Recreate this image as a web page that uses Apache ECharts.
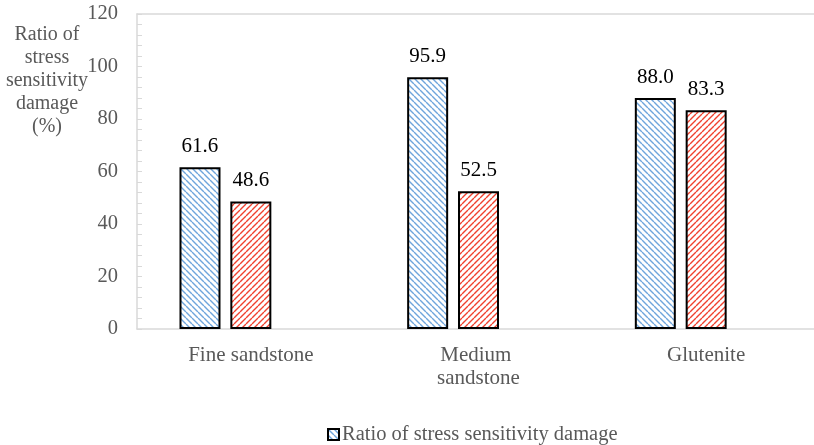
<!DOCTYPE html>
<html>
<head>
<meta charset="utf-8">
<script src="https://cdn.jsdelivr.net/npm/echarts@6/dist/echarts.min.js"></script>
<style>html,body{margin:0;padding:0;background:#fff;overflow:hidden}#c{width:820px;height:445px}</style>
</head>
<body>
<div id="c"></div>
<script>
const categories = ['Fine sandstone', 'Medium sandstone', 'Glutenite'];
const seriesNames = ['Ratio of stress sensitivity damage', 'Series 2', 'Series 3'];
const valuesBlue = [61.6, 95.9, 88.0];
const valuesRed = [48.6, 52.5, 83.3];
const valuesEmpty = [null, null, null];
const yTicks = [0, 20, 40, 60, 80, 100, 120];
const yName = ['Ratio of', 'stress', 'sensitivity', 'damage', '(%)'];

function makePattern(color, dir) {
  const s = 6;
  const c = document.createElement('canvas');
  c.width = s; c.height = s;
  const g = c.getContext('2d');
  g.fillStyle = '#ffffff';
  g.fillRect(0, 0, s, s);
  g.strokeStyle = color;
  g.lineWidth = 1.4;
  g.beginPath();
  for (let k = -1; k <= 1; k++) {
    if (dir === 'back') { g.moveTo(k * s, 0); g.lineTo(k * s + s, s); }
    else { g.moveTo(k * s, s); g.lineTo(k * s + s, 0); }
  }
  g.stroke();
  return { image: c, repeat: 'repeat' };
}

const FONT = 'Liberation Serif, Times New Roman, serif';
const chart = echarts.init(document.getElementById('c'));
const barCommon = {
  type: 'bar',
  barWidth: 41,
  barGap: '24%',
  label: { show: true, position: 'top', distance: 10, color: '#000', fontSize: 21, fontFamily: FONT, formatter: p => p.value.toFixed(1) }
};
chart.setOption({
  animation: false,
  textStyle: { fontFamily: FONT },
  grid: { left: 137, top: 14, right: 0, bottom: 116, show: false },
  legend: {
    data: [seriesNames[0]],
    left: 322, top: 419,
    icon: 'rect', itemWidth: 11, itemHeight: 11,
    textStyle: { fontSize: 20.5, color: '#595959', fontFamily: FONT, padding: [0, 0, 0, -2] }
  },
  graphic: [{
    type: 'text', x: 47, y: 23,
    style: { text: yName.join('\n'), fill: '#595959', font: '20px ' + FONT, textAlign: 'center', lineHeight: 23 }
  }],
  xAxis: [{
    type: 'category', data: categories,
    axisLine: { lineStyle: { color: '#d9d9d9', width: 1.5 } },
    axisTick: { show: false },
    axisLabel: { color: '#595959', fontSize: 21, fontFamily: FONT, margin: 15, width: 150, overflow: 'break', lineHeight: 23 }
  }, {
    type: 'category', data: categories, position: 'top',
    axisLine: { show: true, lineStyle: { color: '#d9d9d9', width: 1.5 } },
    axisTick: { show: false }, axisLabel: { show: false }
  }],
  yAxis: {
    type: 'value', min: 0, max: 120, interval: 20,
    axisLine: { show: true, lineStyle: { color: '#d9d9d9', width: 1.5 } },
    axisTick: { show: true, inside: true, length: 5, lineStyle: { color: '#d9d9d9' } },
    minorTick: { show: true, splitNumber: 5, length: 5, lineStyle: { color: '#d9d9d9' } },
    splitLine: { show: false },
    axisLabel: { color: '#595959', fontSize: 20.5, fontFamily: FONT, margin: 19, formatter: v => yTicks.includes(v) ? String(v) : '' }
  },
  series: [
    Object.assign({}, barCommon, { name: seriesNames[0], data: valuesBlue, itemStyle: { color: makePattern('#6fa5dc', 'back'), borderColor: '#000', borderWidth: 2 } }),
    Object.assign({}, barCommon, { name: seriesNames[1], data: valuesRed, itemStyle: { color: makePattern('#f0412e', 'fwd'), borderColor: '#000', borderWidth: 2 } }),
    Object.assign({}, barCommon, { name: seriesNames[2], data: valuesEmpty, label: { show: false } })
  ]
});
</script>
</body>
</html>
